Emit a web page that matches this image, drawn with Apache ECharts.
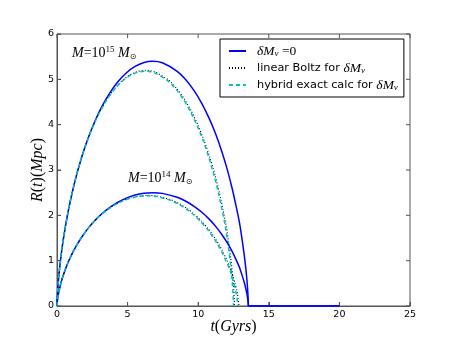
<!DOCTYPE html>
<html>
<head>
<meta charset="utf-8">
<script src="https://cdn.jsdelivr.net/npm/echarts@6/dist/echarts.min.js"></script>
<style>
    html, body { margin: 0; padding: 0; background: #fff; }
    #chart { width: 455px; height: 341px; }
</style>
</head>
<body>
<div id="chart"></div>
<script>
// t (Gyrs) and R(t) (Mpc)
const tBlue = [0, 0.0004, 0.0029, 0.0153, 0.0444, 0.1203, 0.2517, 0.3938, 0.578, 0.8073, 1.0839, 1.4088, 1.782, 2.2024, 2.6678, 3.175, 3.7198, 4.2974, 4.902, 5.5271, 6.1666, 6.7764, 7.4584, 8.514, 9.1238, 9.7077, 10.2604, 10.7768, 11.2513, 11.6826, 12.0656, 12.4012, 12.6884, 12.9325, 13.122, 13.2737, 13.3853, 13.4506, 13.4999, 13.538, 13.5506, 13.5528, 20]
const rBlue15 = [0, 0.0135, 0.0538, 0.1637, 0.3305, 0.6349, 1.0217, 1.3566, 1.7216, 2.1087, 2.509, 2.9136, 3.3134, 3.6995, 4.0631, 4.3961, 4.691, 4.9411, 5.141, 5.2859, 5.373, 5.4, 5.3662, 5.1779, 4.9899, 4.7505, 4.4648, 4.1386, 3.7822, 3.3969, 3.0028, 2.5985, 2.1964, 1.8216, 1.435, 1.0937, 0.7866, 0.5726, 0.3754, 0.1478, 0.0452, 0, 0]
const rBlue14 = [0, 0.0063, 0.0249, 0.0758, 0.153, 0.294, 0.473, 0.628, 0.7971, 0.9762, 1.1616, 1.3489, 1.534, 1.7127, 1.8811, 2.0352, 2.1717, 2.2876, 2.3801, 2.4472, 2.4875, 2.5, 2.4844, 2.3972, 2.3101, 2.1993, 2.0671, 1.916, 1.751, 1.5726, 1.3902, 1.203, 1.0169, 0.8433, 0.6644, 0.5064, 0.3642, 0.2651, 0.1738, 0.0684, 0.0209, 0, 0]

const tBoltz15 = [0, 0.0003, 0.0027, 0.0142, 0.0411, 0.1116, 0.2333, 0.3652, 0.5359, 0.7486, 1.005, 1.3063, 1.6523, 2.0421, 2.4736, 2.9439, 3.4491, 3.9846, 4.5452, 5.1248, 5.7178, 6.2832, 6.9155, 7.8943, 8.4597, 9.0012, 9.5136, 9.9924, 10.4323, 10.8322, 11.1874, 11.4986, 11.7649, 11.9912, 12.1669, 12.3076, 12.4111, 12.4716, 12.5173, 12.5526, 12.5643, 12.5664]
const rBoltz15 = [0, 0.013, 0.0518, 0.1576, 0.3183, 0.6114, 0.9838, 1.3063, 1.6579, 2.0306, 2.4161, 2.8057, 3.1907, 3.5625, 3.9126, 4.2332, 4.5172, 4.7581, 4.9506, 5.0902, 5.174, 5.2, 5.1674, 4.9862, 4.8051, 4.5745, 4.2995, 3.9854, 3.6421, 3.2711, 2.8916, 2.5022, 2.1151, 1.7541, 1.3818, 1.0532, 0.7575, 0.5514, 0.3615, 0.1423, 0.0435, 0]
const tHybrid15 = [0, 0.0003, 0.0026, 0.0141, 0.0409, 0.1109, 0.2321, 0.3632, 0.533, 0.7444, 0.9995, 1.2991, 1.6432, 2.0308, 2.46, 2.9277, 3.4301, 3.9627, 4.5202, 5.0967, 5.6863, 6.2486, 6.8775, 7.8509, 8.4131, 8.9517, 9.4613, 9.9375, 10.3749, 10.7727, 11.1259, 11.4356, 11.7002, 11.9252, 12.0999, 12.2399, 12.3428, 12.403, 12.4485, 12.4836, 12.4952, 12.4972]
const rHybrid15 = [0, 0.013, 0.0516, 0.157, 0.3171, 0.6091, 0.98, 1.3013, 1.6515, 2.0228, 2.4068, 2.7949, 3.1784, 3.5488, 3.8976, 4.217, 4.4998, 4.7398, 4.9315, 5.0706, 5.1541, 5.18, 5.1476, 4.967, 4.7866, 4.5569, 4.2829, 3.97, 3.6281, 3.2585, 2.8805, 2.4926, 2.1069, 1.7474, 1.3765, 1.0492, 0.7545, 0.5493, 0.3601, 0.1418, 0.0433, 0]

const tBoltz14 = [0, 0.0003, 0.0027, 0.0146, 0.0422, 0.1143, 0.2392, 0.3743, 0.5493, 0.7673, 1.0301, 1.3389, 1.6936, 2.0931, 2.5354, 3.0175, 3.5353, 4.0843, 4.6589, 5.253, 5.8607, 6.4403, 7.0884, 8.0916, 8.6712, 9.2262, 9.7514, 10.2423, 10.6931, 11.103, 11.4671, 11.7861, 12.059, 12.291, 12.4711, 12.6152, 12.7214, 12.7833, 12.8303, 12.8665, 12.8784, 12.8805]
const rBoltz14 = [0, 0.0061, 0.0243, 0.074, 0.1494, 0.2869, 0.4616, 0.613, 0.7779, 0.9528, 1.1337, 1.3165, 1.4972, 1.6716, 1.8359, 1.9864, 2.1196, 2.2327, 2.323, 2.3885, 2.4278, 2.44, 2.4247, 2.3397, 2.2547, 2.1465, 2.0174, 1.8701, 1.709, 1.5349, 1.3568, 1.1741, 0.9925, 0.8231, 0.6484, 0.4942, 0.3554, 0.2587, 0.1696, 0.0668, 0.0204, 0]
const tHybrid14 = [0, 0.0003, 0.0027, 0.0145, 0.0419, 0.1136, 0.2377, 0.3719, 0.5458, 0.7624, 1.0236, 1.3304, 1.6829, 2.0799, 2.5193, 2.9983, 3.5129, 4.0584, 4.6293, 5.2196, 5.8235, 6.3994, 7.0434, 8.0403, 8.6162, 9.1677, 9.6896, 10.1773, 10.6254, 11.0326, 11.3943, 11.7113, 11.9826, 12.213, 12.392, 12.5352, 12.6407, 12.7021, 12.7489, 12.7849, 12.7967, 12.7988]
const rHybrid14 = [0, 0.0061, 0.0242, 0.0737, 0.1487, 0.2857, 0.4597, 0.6105, 0.7747, 0.9489, 1.1291, 1.3111, 1.491, 1.6648, 1.8284, 1.9782, 2.1109, 2.2235, 2.3134, 2.3787, 2.4178, 2.43, 2.4148, 2.3301, 2.2454, 2.1377, 2.0092, 1.8624, 1.702, 1.5286, 1.3513, 1.1693, 0.9884, 0.8197, 0.6458, 0.4922, 0.354, 0.2577, 0.1689, 0.0665, 0.0203, 0]

const xTicks = [0, 5, 10, 15, 20, 25]
const yTicks = [0, 1, 2, 3, 4, 5, 6]

const zip = (ts, rs) => ts.map((t, i) => [t, rs[i]])

const serifIt = { fontFamily: 'Liberation Serif', fontStyle: 'italic', color: '#000' }
const serifUp = { fontFamily: 'Liberation Serif', color: '#000' }
const frameColor = '#555'

const legendText = {
    dM0: '{m|δM}{s|ν}{r| =0}',
    boltz: '{t|linear Boltz for }{m|δM}{s|ν}',
    hybrid: '{t|hybrid exact calc for }{m|δM}{s|ν}',
}

const blueLine = { color: '#0000ff', width: 1.5, type: 'solid' }
const dotLine = { color: '#000000', width: 1.1, type: [1, 2] }
const dashLine = { color: '#00bfbf', width: 1.5, type: [4, 3] }

const mkSeries = (name, data, lineStyle) => ({
    name,
    type: 'line',
    data,
    showSymbol: false,
    symbol: 'none',
    smooth: 0.2,
    lineStyle,
    itemStyle: { color: lineStyle.color },
    clip: true,
})

// inward tick marks on all four sides, placed through the axes' own scale
const xMin = xTicks[0], xMax = xTicks[xTicks.length - 1]
const yMin = yTicks[0], yMax = yTicks[yTicks.length - 1]
const tickLine = (x1, y1, x2, y2) => ({
    type: 'line',
    shape: { x1, y1, x2, y2 },
    style: { stroke: frameColor, lineWidth: 1 },
})
const tickSeries = (values, vertical) => ({
    type: 'custom',
    silent: true,
    clip: false,
    z: 1,
    data: values.map((v) => [v]),
    renderItem: (params, api) => {
        const v = api.value(0)
        if (vertical) {
            const a = api.coord([v, yMin])
            const b = api.coord([v, yMax])
            return { type: 'group', children: [tickLine(a[0], a[1], a[0], a[1] - 4), tickLine(b[0], b[1], b[0], b[1] + 4)] }
        }
        const a = api.coord([xMin, v])
        const b = api.coord([xMax, v])
        return { type: 'group', children: [tickLine(a[0], a[1], a[0] + 4, a[1]), tickLine(b[0], b[1], b[0] - 4, b[1])] }
    },
})

const annotRich = {
    m: { ...serifIt, fontSize: 14, lineHeight: 16 },
    r: { ...serifUp, fontSize: 14, lineHeight: 16 },
    p: { ...serifUp, fontSize: 9, lineHeight: 9, verticalAlign: 'top' },
    s: { fontFamily: 'DejaVu Sans', fontSize: 8, lineHeight: 8, verticalAlign: 'bottom', color: '#000' },
}

const nameRich = {
    i: { ...serifIt, fontSize: 16 },
    r: { ...serifUp, fontSize: 16 },
}

const chart = echarts.init(document.getElementById('chart'), null, { renderer: 'canvas' })

chart.setOption({
    animation: false,
    grid: {
        left: 57, right: 45, top: 34, bottom: 35,
        containLabel: false,
        outerBoundsMode: 'none',
        show: true,
        borderColor: frameColor,
        borderWidth: 1,
        backgroundColor: 'transparent',
    },
    legend: {
        data: ['dM0', 'boltz', 'hybrid'],
        orient: 'vertical',
        left: 220,
        top: 39,
        padding: [5, 6, 5, 8],
        itemGap: 3,
        itemWidth: 17,
        itemHeight: 14,
        itemStyle: { opacity: 0 },
        borderColor: '#000',
        borderWidth: 1,
        backgroundColor: '#fff',
        formatter: (name) => legendText[name],
        textStyle: {
            padding: [0, 0, 0, 6],
            rich: {
                t: { fontFamily: 'DejaVu Sans', fontSize: 11.3, color: '#000', lineHeight: 14 },
                m: { ...serifIt, fontSize: 13.5, lineHeight: 14 },
                r: { ...serifUp, fontSize: 13.5, lineHeight: 14 },
                s: { ...serifIt, fontSize: 9, lineHeight: 9, verticalAlign: 'bottom' },
            },
        },
    },
    xAxis: {
        type: 'value',
        min: xMin,
        max: xMax,
        interval: 5,
        axisLine: { show: true, onZero: false, lineStyle: { color: frameColor, width: 1 } },
        axisTick: { show: true, inside: true, length: 4, lineStyle: { color: frameColor, width: 1 } },
        splitLine: { show: false },
        axisLabel: { color: '#000', fontFamily: 'DejaVu Sans', fontSize: 9.5, margin: 4 },
        name: '{i|t}{r|(}{i|Gyrs}{r|)}',
        nameLocation: 'middle',
        nameMoveOverlap: false,
        nameGap: 13,
        nameTextStyle: { rich: nameRich },
    },
    yAxis: {
        type: 'value',
        min: yMin,
        max: yMax,
        interval: 1,
        axisLine: { show: true, onZero: false, lineStyle: { color: frameColor, width: 1 } },
        axisTick: { show: true, inside: true, length: 4, lineStyle: { color: frameColor, width: 1 } },
        splitLine: { show: false },
        axisLabel: { color: '#000', fontFamily: 'DejaVu Sans', fontSize: 9.5, margin: 3 },
        name: '{i|R}{r|(}{i|t}{r|)(}{i|Mpc}{r|)}',
        nameLocation: 'middle',
        nameMoveOverlap: false,
        nameGap: 11,
        nameTextStyle: { rich: nameRich },
    },
    graphic: [
        {
            type: 'text',
            left: 72,
            top: 45,
            style: { text: '{m|M}{r|=10}{p|15}{m| M}{s|⊙}', rich: annotRich },
        },
        {
            type: 'text',
            left: 128,
            top: 170,
            style: { text: '{m|M}{r|=10}{p|14}{m| M}{s|⊙}', rich: annotRich },
        },
    ],
    series: [
        tickSeries(xTicks, true),
        tickSeries(yTicks, false),
        mkSeries('dM0', zip(tBlue, rBlue15), blueLine),
        mkSeries('boltz', zip(tBoltz15, rBoltz15), dotLine),
        mkSeries('hybrid', zip(tHybrid15, rHybrid15), dashLine),
        mkSeries('dM0', zip(tBlue, rBlue14), blueLine),
        mkSeries('boltz', zip(tBoltz14, rBoltz14), dotLine),
        mkSeries('hybrid', zip(tHybrid14, rHybrid14), dashLine),
    ],
})
</script>
</body>
</html>
